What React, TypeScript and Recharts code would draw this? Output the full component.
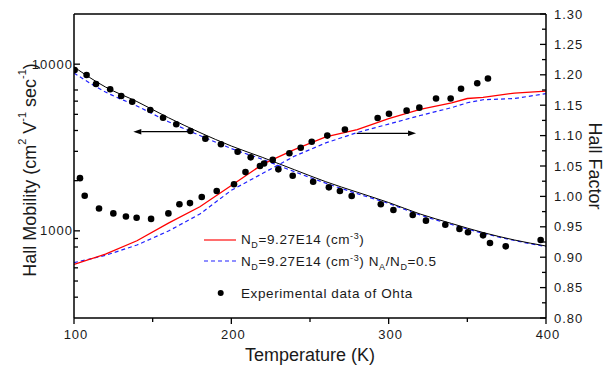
import {
    ComposedChart,
    Line,
    Scatter,
    XAxis,
    YAxis,
    ReferenceLine,
    Legend,
    Label,
} from 'recharts';

const FONT = '"Liberation Sans", Arial, sans-serif';
const INK = '#1a1a1a';

// calculated Hall mobility (cm2/Vs) vs temperature (K)
const calcT = [100, 120, 140, 160, 180, 200, 220, 240, 260, 280, 300, 320, 340, 360, 380, 400];
const mobilityCalc = [9616, 7295, 5966, 4775, 3890, 3228, 2754, 2328, 1972, 1706, 1479, 1262, 1107, 977, 881, 811];
const mobilityCalcComp = [8851, 6808, 5605, 4519, 3733, 3119, 2679, 2265, 1932, 1671, 1459, 1245, 1091, 968, 875, 805];

// calculated Hall factor
const hfT = [100, 120, 140, 160, 180, 200, 220, 240, 260, 280, 300, 320, 340, 350, 360, 380, 400];
const hfCalc = [0.888, 0.905, 0.927, 0.956, 0.983, 1.018, 1.053, 1.077, 1.098, 1.11, 1.128, 1.143, 1.154, 1.161, 1.163, 1.17, 1.173];
const hfCalcComp = [0.891, 0.903, 0.92, 0.943, 0.971, 1.01, 1.038, 1.066, 1.088, 1.105, 1.119, 1.133, 1.146, 1.154, 1.159, 1.161, 1.169];

// experimental data of Ohta
const expMobT = [100.4, 108, 114, 123, 130, 137, 148.5, 156.6, 165, 174, 183.5, 193.4, 204, 212.3, 229.9, 239, 252, 262, 269, 276.5, 295, 303, 315.3, 323.7, 336, 345, 350.4, 360, 364.4, 374.4, 396.6];
const expMob = [9226, 8610, 7603, 7066, 6443, 5954, 5309, 4775, 4357, 3974, 3573, 3305, 2985, 2761, 2339, 2143, 1972, 1824, 1734, 1618, 1443, 1334, 1245, 1151, 1089, 1026, 980, 940, 845, 807, 881];
const expHfT = [103.8, 106.8, 115.9, 125, 133, 139.8, 149, 160, 167, 173.7, 181.2, 190.7, 201.7, 209, 218.2, 220.8, 226.3, 236.9, 244.1, 251.1, 261, 272.2, 293, 300.2, 311.4, 319.5, 330.1, 339.4, 346, 356.3, 363.1];
const expHf = [1.03, 1.001, 0.98, 0.972, 0.967, 0.965, 0.963, 0.972, 0.987, 0.989, 0.999, 1.009, 1.02, 1.04, 1.05, 1.054, 1.06, 1.071, 1.08, 1.09, 1.1, 1.11, 1.129, 1.136, 1.141, 1.146, 1.161, 1.161, 1.177, 1.186, 1.194];

// axis ticks
const xTicks = [100, 150, 200, 250, 300, 350, 400];
const mobilityTicks = [400, 500, 600, 800, 900, 1000, 2000, 3000, 4000, 5000, 6000, 7000, 10000];
const hfTicks = [0.8, 0.825, 0.85, 0.875, 0.9, 0.925, 0.95, 0.975, 1.0, 1.025, 1.05, 1.075, 1.1, 1.125, 1.15, 1.175, 1.2, 1.225, 1.25, 1.275, 1.3];

// arrows pointing to the axis each curve belongs to (T from, T to, Hall factor level)
const arrows = [
    { from: 173.7, to: 137.7, level: 1.1064 },
    { from: 279.7, to: 317.4, level: 1.1038 },
];

const zip = (t: number[], v: number[]) => t.map((x, i) => ({ t: x, v: v[i] }));

const tickText = { fontFamily: FONT, fontSize: 13, fill: INK, letterSpacing: 1 };

const BottomTick = (props: any) => {
    const { x, y, payload } = props;
    const major = payload.value % 100 === 0;
    return (
        <g>
            <line x1={x} y1={y} x2={x} y2={y + (major ? 6 : 4)} stroke="#000" strokeWidth={1.3} />
            {major && (
                <text x={x + 2} y={y + 21} textAnchor="middle" {...tickText}>
                    {payload.value}
                </text>
            )}
        </g>
    );
};

const LeftTick = (props: any) => {
    const { x, y, payload } = props;
    const major = payload.value === 1000 || payload.value === 10000;
    return (
        <g>
            <line x1={x} y1={y} x2={x + (major ? 6 : 4)} y2={y} stroke="#000" strokeWidth={1.3} />
            {major && (
                <text x={x - 1} y={y} dy="0.35em" textAnchor="end" {...tickText}>
                    {payload.value}
                </text>
            )}
        </g>
    );
};

const RightTick = (props: any) => {
    const { x, y, payload } = props;
    const major = Math.round(payload.value * 1000) % 50 === 0;
    return (
        <g>
            <line x1={x} y1={y} x2={x - (major ? 6 : 4)} y2={y} stroke="#000" strokeWidth={1.3} />
            {major && (
                <text x={x + 8} y={y} dy="0.35em" textAnchor="start" {...tickText}>
                    {payload.value.toFixed(2)}
                </text>
            )}
        </g>
    );
};

const Arrow = (props: any) => {
    const { x1, y1, x2, y2 } = props;
    const dir = Math.sign(x2 - x1);
    const head = 8;
    return (
        <g>
            <line x1={x1} y1={y1} x2={x2 - dir * head} y2={y2} stroke="#000" strokeWidth={1.2} />
            <polygon
                points={`${x2},${y2} ${x2 - dir * head},${y2 - 2.8} ${x2 - dir * head},${y2 + 2.8}`}
                fill="#000"
            />
        </g>
    );
};

const Dot = (props: any) => <circle cx={props.cx} cy={props.cy} r={3.3} fill="#000" />;

const titleStyle = { fontFamily: FONT, fontSize: 18, fill: INK };

const LeftTitle = ({ viewBox }: any) => {
    const cx = viewBox.x + 30;
    const cy = viewBox.y + viewBox.height / 2 + 4;
    return (
        <text x={cx} y={cy} transform={`rotate(-90 ${cx} ${cy})`} textAnchor="middle" dominantBaseline="central" {...titleStyle}>
            Hall Mobility (cm
            <tspan dy={-8} fontSize={11}>2</tspan>
            <tspan dy={8}> V</tspan>
            <tspan dy={-8} fontSize={11}>-1</tspan>
            <tspan dy={8}> sec</tspan>
            <tspan dy={-8} fontSize={11}>-1</tspan>
            <tspan dy={8}>)</tspan>
        </text>
    );
};

const RightTitle = ({ viewBox }: any) => {
    const cx = viewBox.x + 49;
    const cy = viewBox.y + viewBox.height / 2;
    return (
        <text x={cx} y={cy} transform={`rotate(90 ${cx} ${cy})`} textAnchor="middle" dominantBaseline="central" {...titleStyle}>
            Hall Factor
        </text>
    );
};

const BottomTitle = ({ viewBox }: any) => (
    <text x={viewBox.x + viewBox.width / 2} y={viewBox.y + 37} textAnchor="middle" dominantBaseline="central" {...titleStyle}>
        Temperature (K)
    </text>
);

const sub = { fontSize: 9, verticalAlign: 'sub', lineHeight: 0 } as const;
const sup = { fontSize: 9, verticalAlign: 'super', lineHeight: 0 } as const;

const LegendBox = () => (
    <div style={{ fontFamily: FONT, fontSize: 13.5, color: INK, letterSpacing: 0.6 }}>
        <div style={{ display: 'flex', alignItems: 'center', height: 21 }}>
            <svg width={37} height={10}>
                <line x1={4} y1={5} x2={36} y2={5} stroke="#ff2020" strokeWidth={1.3} />
            </svg>
            <span style={{ marginLeft: 4, whiteSpace: 'nowrap' }}>
                N<span style={sub}>D</span>=9.27E14 (cm<span style={sup}>-3</span>)
            </span>
        </div>
        <div style={{ display: 'flex', alignItems: 'center', height: 22 }}>
            <svg width={37} height={10}>
                <line x1={4} y1={5} x2={36} y2={5} stroke="#2020ff" strokeWidth={1.2} strokeDasharray="4 3" />
            </svg>
            <span style={{ marginLeft: 4, whiteSpace: 'nowrap' }}>
                N<span style={sub}>D</span>=9.27E14 (cm<span style={sup}>-3</span>) N<span style={sub}>A</span>/N
                <span style={sub}>D</span>=0.5
            </span>
        </div>
        <div style={{ display: 'flex', alignItems: 'center', height: 20, marginTop: 11 }}>
            <svg width={37} height={10}>
                <circle cx={20.7} cy={5} r={3} fill="#000" />
            </svg>
            <span style={{ marginLeft: 4, whiteSpace: 'nowrap' }}>Experimental data of Ohta</span>
        </div>
    </div>
);

export default function App() {
    return (
        <div style={{ position: 'absolute', left: 0, top: 0, background: '#fff' }}>
            <ComposedChart width={605} height={373} margin={{ top: 14, right: 0, bottom: 0, left: 0 }}>
                <XAxis
                    dataKey="t"
                    type="number"
                    domain={[100, 400]}
                    allowDataOverflow
                    ticks={xTicks}
                    interval={0}
                    height={55}
                    tickSize={0}
                    tickMargin={0}
                    tickLine={false}
                    tick={BottomTick}
                    axisLine={{ stroke: '#000', strokeWidth: 1.5 }}
                >
                    <Label content={BottomTitle} />
                </XAxis>
                <YAxis
                    yAxisId="left"
                    type="number"
                    scale="log"
                    domain={[300, 20000]}
                    allowDataOverflow
                    ticks={mobilityTicks}
                    interval={0}
                    width={74}
                    tickSize={0}
                    tickMargin={0}
                    tickLine={false}
                    tick={LeftTick}
                    axisLine={{ stroke: '#000', strokeWidth: 1.5 }}
                >
                    <Label content={LeftTitle} />
                </YAxis>
                <YAxis
                    yAxisId="right"
                    orientation="right"
                    type="number"
                    domain={[0.8, 1.3]}
                    allowDataOverflow
                    ticks={hfTicks}
                    interval={0}
                    width={59}
                    tickSize={0}
                    tickMargin={0}
                    tickLine={false}
                    tick={RightTick}
                    axisLine={{ stroke: '#000', strokeWidth: 1.5 }}
                >
                    <Label content={RightTitle} />
                </YAxis>

                <ReferenceLine yAxisId="right" y={1.3} stroke="#000" strokeWidth={1.5} />
                {arrows.map((a, i) => (
                    <ReferenceLine
                        key={i}
                        yAxisId="right"
                        segment={[{ x: a.from, y: a.level }, { x: a.to, y: a.level }]}
                        shape={Arrow}
                    />
                ))}

                <Line yAxisId="left" data={zip(calcT, mobilityCalcComp)} dataKey="v" type="monotone" stroke="#2020ff" strokeWidth={1.2} strokeDasharray="4 3" dot={false} activeDot={false} isAnimationActive={false} />
                <Line yAxisId="left" data={zip(calcT, mobilityCalc)} dataKey="v" type="monotone" stroke="#000" strokeWidth={1} dot={false} activeDot={false} isAnimationActive={false} />
                <Line yAxisId="right" data={zip(hfT, hfCalcComp)} dataKey="v" type="linear" stroke="#2020ff" strokeWidth={1.2} strokeDasharray="4 3" dot={false} activeDot={false} isAnimationActive={false} />
                <Line yAxisId="right" data={zip(hfT, hfCalc)} dataKey="v" type="linear" stroke="#ff0000" strokeWidth={1.3} dot={false} activeDot={false} isAnimationActive={false} />
                <Scatter yAxisId="left" data={zip(expMobT, expMob)} dataKey="v" shape={Dot} isAnimationActive={false} />
                <Scatter yAxisId="right" data={zip(expHfT, expHf)} dataKey="v" shape={Dot} isAnimationActive={false} />

                <Legend
                    layout="horizontal"
                    verticalAlign="middle"
                    align="center"
                    content={LegendBox}
                    wrapperStyle={{ left: 200, top: 229, width: 300, height: 80 }}
                />
            </ComposedChart>
        </div>
    );
}
